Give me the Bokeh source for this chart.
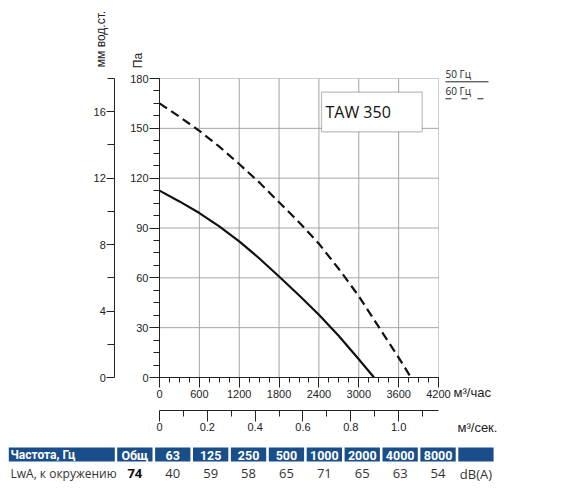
import numpy as np
from bokeh.plotting import figure
from bokeh.models import Range1d, LinearAxis, FixedTicker, Label, BoxAnnotation, Arrow, ColumnDataSource
from bokeh.embed import file_html
from bokeh.resources import INLINE
from bokeh.core.properties import value

# ---------------- data ----------------
flow_50 = [0, 300, 600, 900, 1200, 1500, 1800, 2100, 2400, 2700, 3000, 3230]
pa_50 = [112.5, 106, 99, 91, 82, 71.8, 60.8, 49.5, 37.8, 25, 11, 0]
flow_60 = [0, 300, 600, 900, 1200, 1500, 1800, 2100, 2400, 2700, 3000, 3300, 3600, 3785]
pa_60 = [165, 157, 148.5, 139, 128.5, 117.5, 105.5, 93.5, 80.5, 65.3, 49, 30.5, 12, 0]

x_ticks = [0, 600, 1200, 1800, 2400, 3000, 3600, 4200]
x_minor = list(range(0, 4201, 150))
pa_ticks = [0, 30, 60, 90, 120, 150, 180]
pa_minor = [i * 7.5 for i in range(25)]
mm_ticks = [0, 4, 8, 12, 16]
mm_minor = [2, 6, 10, 14, 18]
ms_ticks = [0, 0.2, 0.4, 0.6, 0.8, 1.0]
ms_minor = [0.1, 0.3, 0.5, 0.7, 0.9, 1.1]
ms_labels = {0: "0", 0.2: "0.2", 0.4: "0.4", 0.6: "0.6", 0.8: "0.8", 1.0: "1.0"}

model_name = "TAW 350"
series_names = ["50 Гц", "60 Гц"]

header_labels = ["Частота, Гц", "Общ", "63", "125", "250", "500", "1000", "2000", "4000", "8000", ""]
row_label = "LwA, к окружению"
total_level = 74
band_levels = [40, 59, 58, 65, 71, 65, 63, 54]
level_unit = "dB(A)"

# ---------------- layout constants (canvas px) ----------------
W, H = 560, 440
FL, FR, FT, FB = 159, 438, 78, 377      # plot area edges
XMAX, YMAX = 4200, 180
KX = XMAX / (FR - FL)
KY = YMAX / (FB - FT)

def px2x(px):
    return (px - FL) * KX

def py2y(py):
    return (FB - py) * KY

AX_FONT = "Liberation Sans"
AX_COL = "#222222"

p = figure(width=W, height=H, x_range=Range1d(px2x(0), px2x(W)), y_range=Range1d(py2y(H), py2y(0)),
           output_backend="svg", toolbar_location=None, min_border=0,
           x_axis_location=None, y_axis_location=None)
p.background_fill_color = "white"
p.border_fill_color = "white"
p.outline_line_color = None
p.xgrid.visible = False
p.ygrid.visible = False
p.extra_y_ranges = {"mm": Range1d(py2y(H) / 10, py2y(0) / 10)}
p.extra_x_ranges = {"ms": Range1d(px2x(0) / 3600, px2x(W) / 3600)}

def style_axis(ax, major_out, minor_out, standoff):
    ax.axis_line_color = AX_COL
    ax.major_tick_line_color = AX_COL
    ax.minor_tick_line_color = AX_COL
    ax.major_tick_in = 0
    ax.minor_tick_in = 0
    ax.major_tick_out = major_out
    ax.minor_tick_out = minor_out
    ax.major_label_standoff = standoff
    ax.major_label_text_font = AX_FONT
    ax.major_label_text_font_size = "11px"
    ax.major_label_text_color = AX_COL

# grid lines (plot area only)
gx = x_ticks[1:-1]
p.segment(x0=gx, y0=[0] * len(gx), x1=gx, y1=[YMAX] * len(gx), line_color="#a4a4a4", line_width=1)
gy = pa_ticks[1:-1]
p.segment(x0=[0] * len(gy), y0=gy, x1=[XMAX] * len(gy), y1=gy, line_color="#a4a4a4", line_width=1)

# plot-area frame
p.add_layout(BoxAnnotation(left=0, right=XMAX, bottom=0, top=YMAX, fill_alpha=0,
                           line_color="#555555", line_width=1, level="underlay"))

# axes
xa = LinearAxis(fixed_location=0, bounds=(0, XMAX),
                ticker=FixedTicker(ticks=x_ticks, minor_ticks=x_minor))
style_axis(xa, 10, 5, 2)
p.add_layout(xa, "below")

ya = LinearAxis(fixed_location=0, bounds=(0, YMAX),
                ticker=FixedTicker(ticks=pa_ticks, minor_ticks=pa_minor))
style_axis(ya, 10, 6, 1)
p.add_layout(ya, "left")

mm_axis = LinearAxis(y_range_name="mm", fixed_location=px2x(114.3), bounds=(0, YMAX / 10),
                     ticker=FixedTicker(ticks=mm_ticks, minor_ticks=mm_minor))
style_axis(mm_axis, 8, 7, 1)
p.add_layout(mm_axis, "left")

ms_axis = LinearAxis(x_range_name="ms", fixed_location=py2y(410), bounds=(0, XMAX / 3600),
                     ticker=FixedTicker(ticks=ms_ticks, minor_ticks=ms_minor))
style_axis(ms_axis, 11, 6, 1)
ms_axis.major_label_overrides = ms_labels
p.add_layout(ms_axis, "below")

# curves
p.line(flow_50, pa_50, line_width=2.2, line_color="#111111", line_join="round")
p.line(flow_60, pa_60, line_width=2.2, line_color="#111111", line_dash="9 5", line_join="round")

# model box
p.add_layout(BoxAnnotation(left=px2x(321), right=px2x(421.7), top=py2y(91.7), bottom=py2y(131.3),
                           fill_color="white", fill_alpha=1.0,
                           line_color="#222222", line_width=1.2, level="annotation"))
p.add_layout(Label(x=px2x(325), y=py2y(111), text=model_name, text_baseline="middle",
                   text_align="left", text_font="Open Sans", text_font_size="16px",
                   text_color="#111111"))

def txt(px, py, text, size="11px", font=AX_FONT, angle=0, align="left"):
    p.add_layout(Label(x=px2x(px), y=py2y(py), text=text, angle=angle,
                       text_align=align, text_baseline="middle", text_font=font,
                       text_font_size=size, text_color=AX_COL))

txt(137, 60, "Па", size="12px", angle=np.pi / 2, align="center")
txt(100, 38.5, "мм вод.ст.", size="12px", angle=np.pi / 2, align="center")
txt(453, 392, "м³/час", size="13px")
txt(457, 427, "м³/сек.", size="13px")
txt(445, 73.5, series_names[0], size="10px", font="Open Sans")
txt(445, 90, series_names[1], size="10px", font="Open Sans")

p.add_layout(Arrow(end=None, x_start=px2x(445), x_end=px2x(488), y_start=py2y(81.3), y_end=py2y(81.3),
                   line_color=AX_COL, line_width=1))
p.add_layout(Arrow(end=None, x_start=px2x(445), x_end=px2x(488), y_start=py2y(98.3), y_end=py2y(98.3),
                   line_color=AX_COL, line_width=1, line_dash="6 10"))

# ---------------- table ----------------
t = figure(width=560, height=44, x_range=Range1d(0, 560), y_range=Range1d(44, 0),
           output_backend="svg", toolbar_location=None, min_border=0,
           x_axis_location=None, y_axis_location=None)
t.grid.visible = False
t.outline_line_color = None
t.background_fill_color = "white"
t.border_fill_color = "white"

n_cols = len(header_labels)
lefts = [8.3] + [116.7 + 37.9 * k for k in range(n_cols - 1)]
rights = [114.3] + [116.7 + 37.9 * k + 35.3 for k in range(n_cols - 1)]
centers = [(l + r) / 2 for l, r in zip(lefts, rights)]

t.quad(left=lefts, right=rights, top=[7] * n_cols, bottom=[21] * n_cols,
       fill_color="#1a4e8a", line_color=None)

hsrc = ColumnDataSource(dict(x=centers[1:], y=[14.5] * (n_cols - 1), text=header_labels[1:]))
t.text(x="x", y="y", text="text", source=hsrc, text_align="center", text_baseline="middle",
       text_color="white", text_font=value("Roboto"), text_font_style="bold",
       text_font_size="12.5px")
t.text(x=[10.0], y=[14.5], text=[header_labels[0]], text_align="left", text_baseline="middle",
       text_color="white", text_font=value("Roboto"), text_font_style="bold",
       text_font_size="12px")

t.text(x=[10.0], y=[33], text=[row_label], text_align="left", text_baseline="middle",
       text_color="#333333", text_font=value("Open Sans"), text_font_size="12px")
t.text(x=[centers[1]], y=[33], text=[str(total_level)], text_align="center", text_baseline="middle",
       text_color="#111111", text_font=value("Open Sans"), text_font_style="bold",
       text_font_size="13px")
vals = [str(v) for v in band_levels] + [level_unit]
vsrc = ColumnDataSource(dict(x=centers[2:], y=[33] * len(vals), text=vals))
t.text(x="x", y="y", text="text", source=vsrc, text_align="center", text_baseline="middle",
       text_color="#333333", text_font=value("Open Sans"), text_font_size="13px")

open("out.html", "w").write(file_html([p, t], INLINE))
